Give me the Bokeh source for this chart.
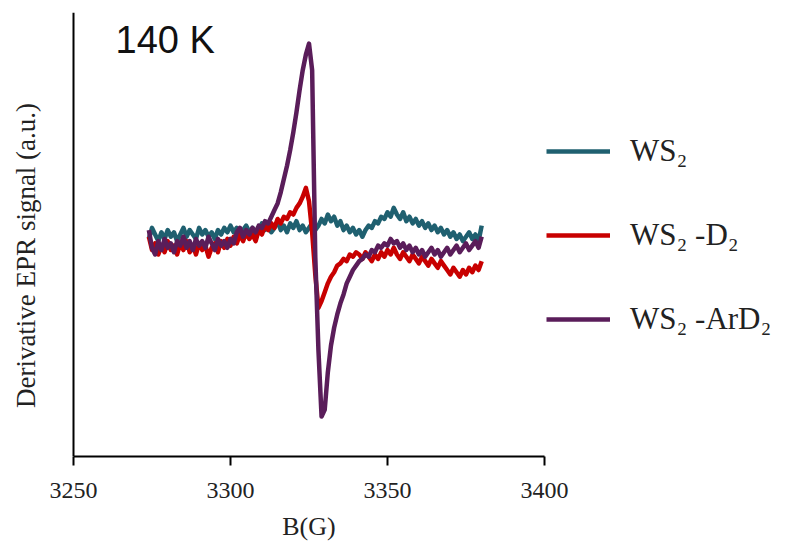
import math
from bokeh.plotting import figure
from bokeh.models import Legend, LegendItem, Label, FixedTicker, Range1d, Span
from bokeh.embed import file_html
from bokeh.resources import INLINE

# Magnetic field (G)
field = list(range(3274, 3381))

ws2 = [-2, 3, 0, -3, 1, -2, 2, -1, 1, -3, 0, 3, -1, 2, 0, -2, 3, 0, 2, -1, 1, -2, 2, 0, 3, 1, 4,
       1, 3, 0, 2, 4, 1, 3, 0, 2, 5, 2, 4, 1, 3, 6, 2, 4, 1, 5, 3, 6, 2, 4, 1, 3, 5, 2, 4, 7, 5, 9,
       6, 8, 4, 6, 2, 4, 1, 3, 0, 2, -1, 2, 4, 3, 6, 5, 8, 7, 10, 8, 12, 9, 7, 10, 6, 8, 5, 7, 4,
       6, 3, 5, 2, 4, 1, 3, 0, 2, -1, 1, -2, 0, -3, -1, 1, -2, 0, -3, 4]

ws2_d2 = [-1, -7, -4, -9, -5, -8, -3, -7, -5, -9, -4, -7, -3, -8, -5, -9, -4, -7, -5, -10, -6, -4,
          -8, -3, -6, -2, -5,
          -1, -4, 0, -3, 1, -2, 0, -3, 2, 0, 4, 2, 5, 3, 7, 5, 8, 7, 10, 9, 12, 14, 17, 21, 15, 1,
          -18, -33, -30, -26, -22, -19, -17, -14, -13, -11, -12, -9, -10, -8, -9, -11, -8, -10,
          -12, -9, -11, -8, -10, -7, -9, -6, -9, -11, -8, -10, -12, -9, -11, -13, -10, -12, -14,
          -11, -13, -15, -12, -14, -16, -18, -15, -17, -19, -16, -18, -15, -17, -14, -16, -12]

ws2_ard2 = [2, -6, -9, -3, -7, -2, -6, -4, -8, -3, -5, -1, -6, -3, -7, -2, -5, -3, -6, -1, -4, -7,
            -2, -5, -3, -6, -2,
            -4, 1, 3, -1, 2, 0, 3, 1, 4, 3, 6, 5, 8, 11, 14, 19, 25, 31, 38, 46, 55, 65, 74, 81,
            86, 74, -10, -52, -82, -79, -62, -50, -42, -36, -31, -27, -22, -19, -16, -14, -12,
            -11, -9, -10, -7, -8, -5, -6, -4, -5, -2, -4, -3, -6, -4, -7, -5, -8, -6, -9, -7, -10,
            -8, -6, -9, -7, -10, -8, -6, -9, -7, -5, -8, -6, -4, -7, -5, -3, -6, -1]

series_names = ["WS\u2082", "WS\u2082 -D\u2082", "WS\u2082 -ArD\u2082"]
series_colors = ["#1f6070", "#c80000", "#5a1d5a"]
x_ticks = [3250, 3300, 3350, 3400]
x_min, x_max = 3250, 3400

SERIF = "Liberation Serif"

# frame spans the full canvas width; the axes are limited to the data window
p = figure(width=786, height=547, output_backend="svg", toolbar_location=None,
           min_border_left=0, min_border_right=0, min_border_top=12, min_border_bottom=91,
           x_range=Range1d(3226.75, 3477.07), y_range=Range1d(-100, 100))
p.outline_line_color = None
p.grid.visible = False
p.background_fill_color = "white"
p.border_fill_color = "white"
p.yaxis.visible = False

renderers = []
for ys, c in zip([ws2, ws2_d2, ws2_ard2], series_colors):
    r = p.line(field, ys, line_color=c, line_width=4.5, line_join="round")
    renderers.append(r)

# x axis
xa = p.xaxis[0]
xa.ticker = FixedTicker(ticks=x_ticks)
xa.bounds = (x_min, x_max)
xa.axis_line_width = 2
xa.axis_line_color = "black"
xa.major_tick_line_width = 2
xa.major_tick_line_color = "black"
xa.major_tick_in = 0
xa.major_tick_out = 9
xa.minor_tick_line_color = None
xa.major_label_text_font = SERIF
xa.major_label_text_font_size = "24px"
xa.major_label_text_color = "#222222"
xa.major_label_standoff = 17
# trailing no-break spaces shift the centred label over the 3250-3400 window
xa.axis_label = "B(G)" + "\u00a0" * 26
xa.axis_label_text_font = SERIF
xa.axis_label_text_font_size = "26px"
xa.axis_label_text_font_style = "normal"
xa.axis_label_text_color = "#222222"
xa.axis_label_standoff = 11

# y axis line at the left end of the field window
p.add_layout(Span(location=x_min, dimension="height", line_color="black", line_width=2))

p.add_layout(Label(x=25, y=201, x_units="screen", y_units="screen",
                   text="Derivative EPR signal (a.u.)", angle=math.pi / 2,
                   text_align="center", text_baseline="middle",
                   text_font=SERIF, text_font_size="27px", text_color="#222222"))

# legend
items = [LegendItem(label=n, renderers=[r]) for n, r in zip(series_names, renderers)]
legend = Legend(items=items, location=(546, 119), orientation="vertical",
                glyph_width=64, glyph_height=30, label_height=30, spacing=48,
                label_standoff=20, padding=0, margin=0,
                label_text_font=SERIF, label_text_font_size="31px",
                label_text_color="#222222",
                border_line_color=None, background_fill_alpha=0)
p.add_layout(legend)

p.add_layout(Label(x=115, y=396, x_units="screen", y_units="screen", text="140 K",
                   text_font="Liberation Sans", text_font_size="38px", text_color="#111111"))

open("out.html", "w").write(file_html(p, INLINE))
